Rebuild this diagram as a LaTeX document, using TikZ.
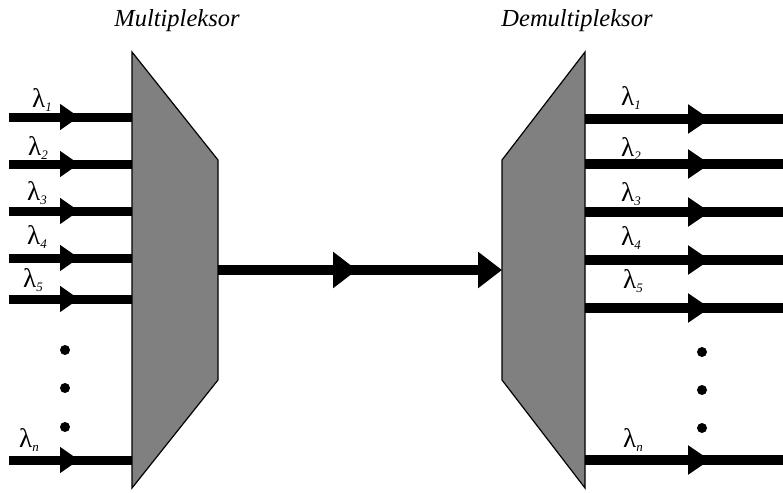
\documentclass[tikz,border=0pt]{standalone}
\usepackage{fontspec}
\setmainfont{Liberation Serif}
\usetikzlibrary{arrows.meta,decorations.markings,calc}
\definecolor{boxgray}{RGB}{128,128,128}
\newcommand{\lam}[1]{\fontsize{27}{27}\selectfont λ\raisebox{-0.3ex}{\fontsize{13}{13}\selectfont\itshape #1}}
\tikzset{
  devbox/.style={draw=none, inner sep=0pt, outer sep=0pt, minimum width=#1},
  devshape/.style={draw=black, line width=1.2pt, fill=boxgray, line join=miter},
  inarrow/.style={line width=9pt, postaction={decorate},
    decoration={markings, mark=at position 70pt with {\arrow{Triangle[length=19pt,width=25pt]}}}},
  outarrow/.style={line width=10pt, postaction={decorate},
    decoration={markings, mark=at position 125pt with {\arrow{Triangle[length=22pt,width=28pt]}}}},
  midarrow/.style={line width=10pt, -{Triangle[length=24pt,width=35pt]}, postaction={decorate},
    decoration={markings, mark=at position 139pt with {\arrow{Triangle[length=24pt,width=35pt]}}}},
  lamlabel/.style={inner sep=0pt, anchor=center},
  title/.style={inner sep=0pt, font=\fontsize{24.5}{24.5}\selectfont\itshape},
  dot/.style={fill=black}
}
\begin{document}
\begin{tikzpicture}[x=1pt, y=-1pt]
\useasboundingbox (0,0) rectangle (783,492);
% device bodies
\node[devbox=86pt, minimum height=436pt] (mux) at (175,270) {};
\node[devbox=83pt, minimum height=436pt] (demux) at (543.5,270) {};
\draw[devshape] (mux.north west) -- ($(mux.north east)+(0,108)$) -- ($(mux.south east)+(0,-108)$) -- (mux.south west) -- cycle;
\draw[devshape] (demux.north east) -- ($(demux.north west)+(0,108)$) -- ($(demux.south west)+(0,-108)$) -- (demux.south east) -- cycle;
% titles
\node[title] (tmux) at (177,21) {Multipleksor};
\node[title] (tdemux) at (577,21) {Demultipleksor};
% input start points
\coordinate (i1) at (9,117);
\coordinate (i2) at (9,164);
\coordinate (i3) at (9,211);
\coordinate (i4) at (9,258);
\coordinate (i5) at (9,299);
\coordinate (in) at (9,460);
\foreach \c in {i1,i2,i3,i4,i5,in}{
  \draw[inarrow] (\c) -- (mux.west |- \c);
}
% output end points
\coordinate (o1) at (783,119);
\coordinate (o2) at (783,164);
\coordinate (o3) at (783,212);
\coordinate (o4) at (783,260);
\coordinate (o5) at (783,308);
\coordinate (on) at (783,460);
\foreach \c in {o1,o2,o3,o4,o5,on}{
  \draw[outarrow] (demux.east |- \c) -- (\c);
}
% middle link
\draw[midarrow] (mux.east) -- (demux.west);
% labels left
\node[lamlabel] (l1) at (42,100) {\lam{1}};
\node[lamlabel] (l2) at (38,148) {\lam{2}};
\node[lamlabel] (l3) at (37,193) {\lam{3}};
\node[lamlabel] (l4) at (37,237) {\lam{4}};
\node[lamlabel] (l5) at (33,280) {\lam{5}};
\node[lamlabel] (ln) at (29,440) {\lam{n}};
% labels right
\node[lamlabel] (r1) at (631,98) {\lam{1}};
\node[lamlabel] (r2) at (631,149) {\lam{2}};
\node[lamlabel] (r3) at (631,194) {\lam{3}};
\node[lamlabel] (r4) at (631,238) {\lam{4}};
\node[lamlabel] (r5) at (633,281) {\lam{5}};
\node[lamlabel] (rn) at (633,440) {\lam{n}};
% dots
\foreach \y in {350,388,427}{ \fill[dot] (65,\y) circle (5pt); }
\foreach \y in {352,390,428}{ \fill[dot] (702,\y) circle (5pt); }
\end{tikzpicture}
\end{document}
